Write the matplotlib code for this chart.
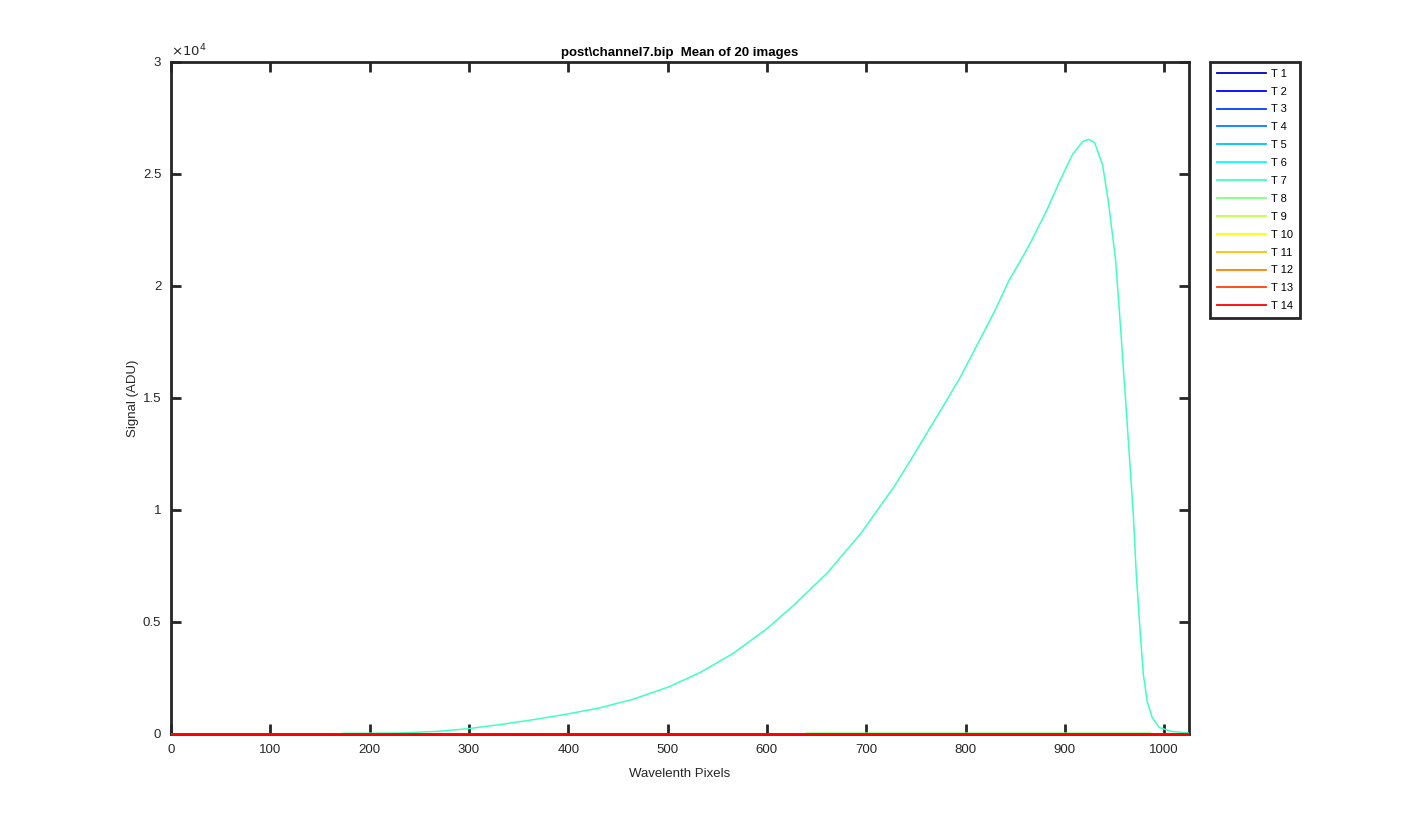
import numpy as np
import matplotlib
matplotlib.use("Agg")
import matplotlib.pyplot as plt
from matplotlib.ticker import FuncFormatter

plt.rcParams["font.family"] = ["Liberation Sans", "DejaVu Sans"]

# series names and MATLAB jet(16)[:14] colours
labels = ["T %d" % i for i in range(1, 15)]
colors = [(0, 0, 0.75), (0, 0, 1), (0, 0.25, 1), (0, 0.5, 1), (0, 0.75, 1),
          (0, 1, 1), (0.25, 1, 0.75), (0.5, 1, 0.5), (0.75, 1, 0.25), (1, 1, 0),
          (1, 0.75, 0), (1, 0.5, 0), (1, 0.25, 0), (1, 0, 0)]

# T 7 : the only channel with real signal (pixel, ADU)
t7_x = [1, 170, 173, 200, 230, 269, 300, 331, 365, 400, 431, 465, 501, 533, 566,
        600, 627, 661, 695, 728, 745, 762, 779, 795, 812, 829, 844, 855, 865,
        882, 895, 908, 918, 924, 930, 938, 944, 951, 956, 961, 965, 969, 972, 976,
        979, 983, 988, 995, 1008, 1021, 1024]
t7_y = [0, 0, 30, 35, 45, 120, 240, 420, 640, 900, 1160, 1550, 2100, 2750, 3600,
        4700, 5750, 7200, 8980, 11040, 12250, 13500, 14750, 15950, 17400, 18850,
        20270, 21100, 21900, 23400, 24700, 25900, 26450, 26550, 26400,
        25400, 23700, 21200, 18200, 15000, 12400, 9730, 7080, 4440, 2670, 1440,
        730, 290, 110, 60, 50]

# T 8 : small offset over part of the detector
t8_x = [1, 638, 640, 986, 988, 1024]
t8_y = [0, 0, 40, 40, 0, 0]

# all other channels sit at ~0
flat_x = [1, 1024]
flat_y = [0, 0]

ytick_vals = [0, 5000, 10000, 15000, 20000, 25000, 30000]
xtick_vals = list(range(0, 1001, 100))

dark = "#262626"
fig = plt.figure(figsize=(14.25, 8.25), dpi=100)
ax = fig.add_axes([171 / 1425, 91 / 825, 1018 / 1425, 672 / 825])

for i in range(14):
    if i == 6:
        xs, ys = t7_x, t7_y
    elif i == 7:
        xs, ys = t8_x, t8_y
    else:
        xs, ys = flat_x, flat_y
    lw = 2.0 if i == 13 else 1.1
    ax.plot(xs, ys, color=colors[i], lw=lw, label=labels[i], zorder=3, clip_on=False)

ax.set_xlim(0, 1025)
ax.set_ylim(0, 30000)
ax.set_xticks(xtick_vals)
ax.set_yticks(ytick_vals)
ax.yaxis.set_major_formatter(FuncFormatter(lambda v, p: "%g" % (v / 1e4)))
ax.tick_params(direction="in", length=7, width=2, colors=dark, labelsize=9.5,
               pad=7, top=True, right=True)
for s in ax.spines.values():
    s.set_linewidth(2)
    s.set_color(dark)

ax.text(0.0, 1.004, r"$\times10^{4}$", transform=ax.transAxes, fontsize=9.5,
        color=dark, ha="left", va="bottom")
ax.set_title("post\\channel7.bip  Mean of 20 images", fontsize=9.5,
             fontweight="bold", color="black", pad=4)
ax.set_xlabel("Wavelenth Pixels", fontsize=9.5, color=dark, labelpad=9)
ax.set_ylabel("Signal (ADU)", fontsize=9.5, color=dark, labelpad=3)

leg = ax.legend(loc="upper left", bbox_to_anchor=(1210 / 1425, 1 - 62 / 825),
                bbox_transform=fig.transFigure, borderaxespad=0, fontsize=8,
                handlelength=4.4, handletextpad=0.5, labelspacing=0.71,
                borderpad=0.6, fancybox=False, framealpha=1)
leg.get_frame().set_edgecolor(dark)
leg.get_frame().set_linewidth(2)
for ln in leg.get_lines():
    ln.set_linewidth(1.3)

fig.savefig("out.png", dpi=100)
